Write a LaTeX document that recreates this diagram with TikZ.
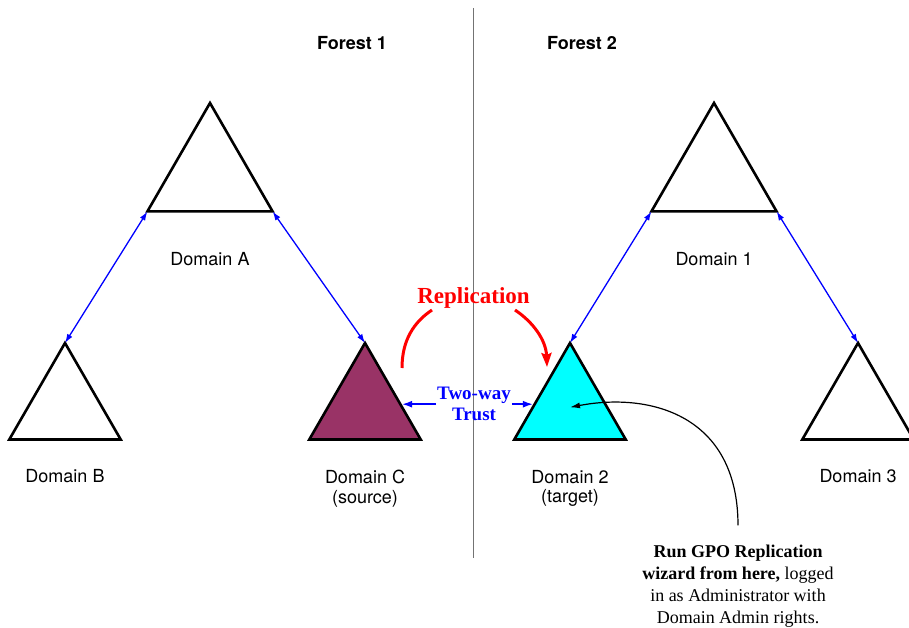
\documentclass[tikz,border=0pt]{standalone}
\usepackage{fontspec}
\setmainfont{Liberation Serif}
\setsansfont{TeX Gyre Heros}
\usepackage{tikz}
\usetikzlibrary{arrows.meta,shapes.geometric}
\usepackage{xcolor}
\definecolor{srcfill}{RGB}{153,51,102}
\definecolor{tgtfill}{RGB}{0,255,255}
\definecolor{divgray}{RGB}{115,115,115}

\begin{document}
\begin{tikzpicture}[
    x=1pt, y=-1pt,
    dom/.style={draw, regular polygon, regular polygon sides=3, line width=2.6pt, inner sep=0pt, outer sep=0pt},
    bigdom/.style={dom, minimum size=144.6pt},
    smalldom/.style={dom, minimum size=128.6pt},
    lbl/.style={font=\sffamily\fontsize{18}{19.5}\selectfont, align=center, inner sep=0pt},
    forestlbl/.style={font=\sffamily\bfseries\fontsize{18}{22}\selectfont, inner sep=0pt, anchor=base},
    treearr/.style={{Latex[length=9pt,width=6pt]}-{Latex[length=9pt,width=6pt]}, blue, line width=1.3pt},
    trustarr/.style={-{Latex[length=10pt,width=7pt]}, blue, line width=1.5pt},
    replarr/.style={red, line width=3pt},
    notearr/.style={-{Latex[length=10pt,width=6pt]}, line width=1.2pt},
]
\useasboundingbox (0,0) rectangle (909,628);

% Divider
\draw[divgray, line width=1.3pt] (473.5,8) -- (473.5,558);

% Forest 1
\node[forestlbl] (f1) at (352,49.3) {Forest 1};
\node[bigdom] (dA) at (210,175.3) {};
\node[smalldom] (dB) at (65,407.3) {};
\node[smalldom, fill=srcfill] (dC) at (365,407.3) {};
\node[lbl, anchor=base] (lA) at (210,265) {Domain A};
\node[lbl, anchor=base] (lB) at (65,482) {Domain B};
\node[lbl] (lC) at (365,488.5) {Domain C\\(source)};

% Forest 2
\node[forestlbl] (f2) at (582,49.3) {Forest 2};
\node[bigdom] (d1) at (714,175.3) {};
\node[smalldom, fill=tgtfill] (d2) at (570,407.3) {};
\node[smalldom] (d3) at (858,407.3) {};
\node[lbl, anchor=base] (l1) at (714,265) {Domain 1};
\node[lbl] (l2) at (570,488.5) {Domain 2\\(target)};
\node[lbl, anchor=base] (l3) at (858,482) {Domain 3};

% Tree trusts
\draw[treearr] (dA.corner 2) -- (dB.corner 1);
\draw[treearr] (dA.corner 3) -- (dC.corner 1);
\draw[treearr] (d1.corner 2) -- (d2.corner 1);
\draw[treearr] (d1.corner 3) -- (d3.corner 1);

% Two-way trust
\node[font=\bfseries\fontsize{19}{21}\selectfont, text=blue, align=center, inner sep=1pt] (trust) at (474,404.2) {Two-way\\Trust};
\draw[trustarr] (trust.west) -- (trust.west -| dC.east);
\draw[trustarr] (trust.east) -- (trust.east -| d2.west);

% Replication
\node[font=\bfseries\fontsize{23}{26}\selectfont, text=red, inner sep=0pt, anchor=base] (repl) at (473.5,303.3) {Replication};
\coordinate (replL) at (402,368);
\coordinate (replLt) at (432,310);
\coordinate (replRt) at (515,310);
\coordinate (replR) at (547,367);
\draw[replarr] (replL) .. controls (402,340) and (414,322) .. (replLt);
\draw[replarr, -{Stealth[length=14pt,width=10pt,inset=2pt]}] (replRt) .. controls (533,322) and (546,340) .. (replR);

% Note
\node[font=\fontsize{18}{22.2}\selectfont, align=center, inner sep=0pt, anchor=north] (note) at (738,544.4)
    {\textbf{Run GPO Replication}\\\textbf{wizard from here,} logged\\in as Administrator with\\Domain Admin rights.};
\draw[notearr] ([yshift=19pt]note.north) .. controls (738,415) and (650,392) .. (d2.center);
\end{tikzpicture}
\end{document}
